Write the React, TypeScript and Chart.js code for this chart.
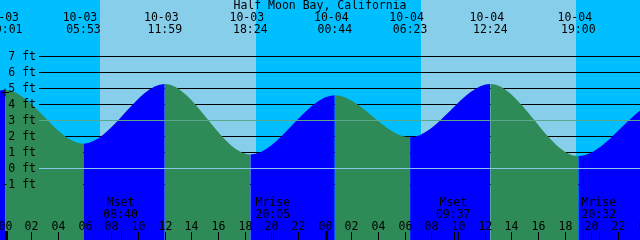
import React, { useEffect, useRef } from "react";
import { Chart, registerables } from "chart.js";
Chart.register(...registerables);

const TITLE = "Half Moon Bay, California";
// hours relative to 10-03 00:00
const START_HOUR = -0.375;
const END_HOUR = 47.625;
const Y_MIN = -4.46875;
const Y_MAX = 10.53125;

// high / low tide events (first and last two lie outside the window)
const tideDates = ["10-02", "10-03", "10-03", "10-03", "10-03", "10-04", "10-04", "10-04", "10-04", "10-05", "10-05"];
const tideTimes = ["17:45", "00:01", "05:53", "11:59", "18:24", "00:44", "06:23", "12:24", "19:00", "01:25", "07:00"];
const tideHeights = [1.0, 4.9, 1.55, 5.28, 0.88, 4.58, 1.95, 5.28, 0.78, 4.3, 2.3];

const sunriseDates = ["10-03", "10-04"];
const sunriseTimes = ["07:08", "07:11"];
const sunsetDates = ["10-03", "10-04"];
const sunsetTimes = ["18:49", "18:48"];

const moonNames = ["Mset", "Mrise", "Mset", "Mrise"];
const moonDates = ["10-03", "10-03", "10-04", "10-04"];
const moonTimes = ["08:40", "20:05", "09:37", "20:32"];

const dayLabels = ["10-03", "10-04"];
const hourLabels = ["00", "02", "04", "06", "08", "10", "12", "14", "16", "18", "20", "22"];

const levelValues = [7, 6, 5, 4, 3, 2, 1, 0, -1];
const levelLabels = ["7 ft", "6 ft", "5 ft", "4 ft", "3 ft", "2 ft", "1 ft", "0 ft", "-1 ft"];
const MSL_LEVEL = 3;
const DATUM_LEVEL = 0;

const markerHours = [0];
const markerHeights = [4.75];

const NIGHT = "#00bfff";
const DAY = "#87ceeb";
const RISE = "#0000ff";
const FALL = "#2e8b57";
const MSL_COLOR = "#5aa88c";
const DATUM_COLOR = "#88c6ec";
const FONT = "11.5px 'DejaVu Sans Mono', monospace";

function toHours(date: string, time: string): number {
  const day = parseInt(date.slice(3), 10) - 3;
  const [hh, mm] = time.split(":").map((v) => parseInt(v, 10));
  return day * 24 + hh + mm / 60;
}

const tidePoints = tideDates.map((d, i) => ({ x: toHours(d, tideTimes[i]), y: tideHeights[i] }));

const tidePlugin = {
  id: "tideDecor",
  beforeDraw(chart: any) {
    const { ctx, chartArea } = chart;
    const xs = chart.scales.x;
    ctx.save();
    ctx.fillStyle = NIGHT;
    ctx.fillRect(0, 0, chart.width, chart.height);
    ctx.fillStyle = DAY;
    sunriseDates.forEach((d, i) => {
      const x0 = Math.round(xs.getPixelForValue(toHours(d, sunriseTimes[i])));
      const x1 = Math.round(xs.getPixelForValue(toHours(sunsetDates[i], sunsetTimes[i])));
      ctx.fillRect(x0, 0, x1 - x0, chart.height);
    });
    ctx.restore();
  },
  beforeDatasetsDraw(chart: any) {
    const { ctx } = chart;
    const ys = chart.scales.y;
    ctx.save();
    ctx.fillStyle = "#000";
    levelValues.forEach((v) => {
      if (v === MSL_LEVEL || v === DATUM_LEVEL) return;
      const row = Math.floor(ys.getPixelForValue(v));
      ctx.fillRect(39, row, chart.width - 39, 1);
    });
    ctx.restore();
  },
  afterDatasetsDraw(chart: any) {
    const { ctx } = chart;
    const xs = chart.scales.x;
    const ys = chart.scales.y;
    ctx.save();
    // MSL and datum lines
    ctx.fillStyle = MSL_COLOR;
    ctx.fillRect(39, Math.floor(ys.getPixelForValue(MSL_LEVEL)), chart.width - 39, 1);
    ctx.fillStyle = DATUM_COLOR;
    ctx.fillRect(39, Math.floor(ys.getPixelForValue(DATUM_LEVEL)), chart.width - 39, 1);

    ctx.fillStyle = "#000";
    ctx.font = FONT;
    ctx.textBaseline = "alphabetic";

    // title
    ctx.textAlign = "center";
    ctx.fillText(TITLE, chart.width / 2, 9);

    // tide event labels
    tidePoints.forEach((p, i) => {
      if (p.x < START_HOUR || p.x > END_HOUR) return;
      const x = xs.getPixelForValue(p.x);
      ctx.fillText(tideDates[i], x - 3.5, 21);
      ctx.fillText(tideTimes[i], x, 33);
    });

    // level labels
    ctx.textAlign = "right";
    levelValues.forEach((v, i) => {
      const row = Math.floor(ys.getPixelForValue(v));
      ctx.fillText(levelLabels[i], 36, row + 4);
    });

    // moon events
    ctx.textAlign = "center";
    moonNames.forEach((n, i) => {
      const t = toHours(moonDates[i], moonTimes[i]);
      const x = xs.getPixelForValue(t);
      ctx.fillText(n, x, 206);
      ctx.fillText(moonTimes[i], x, 218);
      ctx.fillRect(Math.floor(x) + 1, 232, 1, 8);
    });

    // hour ticks and labels
    dayLabels.forEach((_d, di) => {
      hourLabels.forEach((lab) => {
        const t = di * 24 + parseInt(lab, 10);
        const x = Math.floor(xs.getPixelForValue(t));
        if (t % 24 === 0) ctx.fillRect(x, 231, 3, 9);
        else ctx.fillRect(x, 232, 1, 8);
        ctx.fillText(lab, x + 0.5, 230);
      });
    });
    // label for the next midnight at the right edge
    const xEnd = Math.floor(xs.getPixelForValue(48));
    ctx.fillText("00", xEnd + 0.5, 230);
    ctx.restore();
  },
};

export default function App() {
  const ref = useRef<HTMLCanvasElement | null>(null);
  useEffect(() => {
    if (!ref.current) return;
    const chart = new Chart(ref.current, {
      type: "line",
      data: {
        datasets: [
          {
            type: "scatter",
            data: markerHours.map((h, i) => ({ x: h, y: markerHeights[i] })),
            pointStyle: "cross",
            pointRadius: 4,
            borderColor: "#000",
            borderWidth: 1,
            order: 0,
          } as any,
          {
            data: tidePoints,
            fill: "start",
            borderWidth: 0,
            borderColor: "rgba(0,0,0,0)",
            backgroundColor: FALL,
            pointRadius: 0,
            cubicInterpolationMode: "monotone",
            capBezierPoints: false,
            order: 1,
            segment: {
              backgroundColor: (c: any) => (c.p1.parsed.y > c.p0.parsed.y ? RISE : FALL),
            },
          } as any,
        ],
      },
      options: {
        responsive: false,
        animation: false,
        devicePixelRatio: 1,
        events: [],
        layout: { padding: 0, autoPadding: false },
        plugins: { legend: { display: false }, tooltip: { enabled: false } },
        scales: {
          x: { type: "linear", min: START_HOUR, max: END_HOUR, display: false },
          y: { type: "linear", min: Y_MIN, max: Y_MAX, display: false },
        },
      },
      plugins: [tidePlugin],
    });
    return () => chart.destroy();
  }, []);
  return (
    <canvas
      ref={ref}
      width={640}
      height={240}
      style={{ position: "absolute", left: 0, top: 0, width: 640, height: 240 }}
    />
  );
}
